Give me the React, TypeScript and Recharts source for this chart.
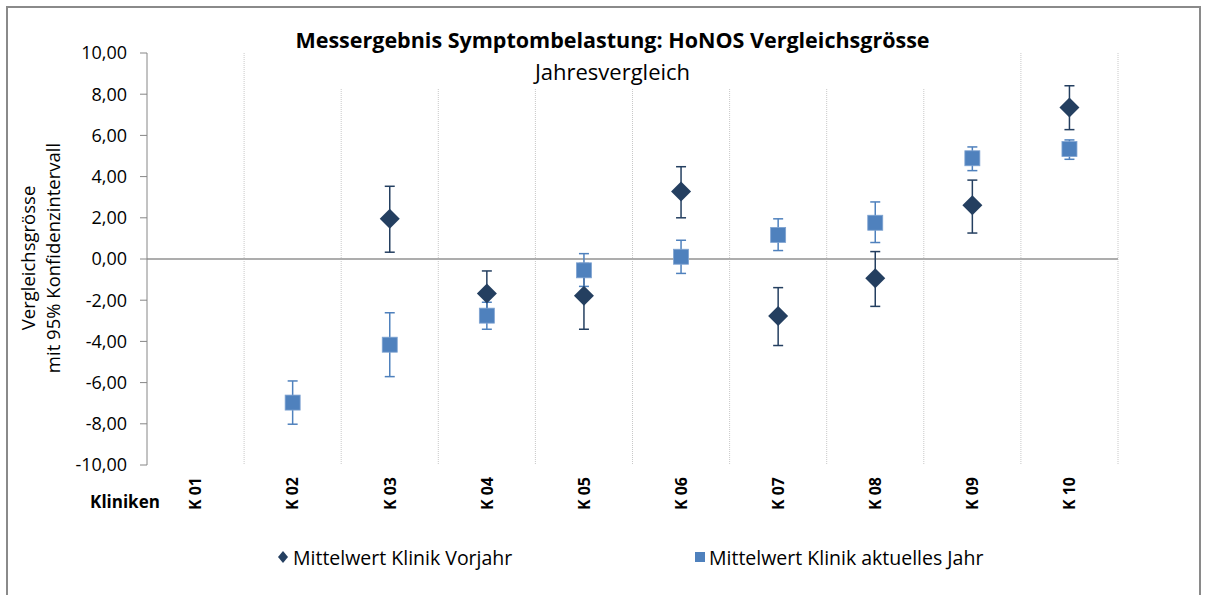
import {
  CartesianGrid,
  ComposedChart,
  ErrorBar,
  Line,
  ReferenceLine,
  XAxis,
  YAxis
} from 'recharts';

const categories = ['K 01', 'K 02', 'K 03', 'K 04', 'K 05', 'K 06', 'K 07', 'K 08', 'K 09', 'K 10'];

// Mittelwert Klinik Vorjahr with 95% interval
const vorjahr = [null, null, 1.95, -1.67, -1.78, 3.28, -2.77, -0.93, 2.61, 7.36];
const vorjahrLow = [null, null, 0.33, -2.76, -3.41, 2.0, -4.2, -2.3, 1.26, 6.28];
const vorjahrHigh = [null, null, 3.53, -0.58, -0.22, 4.48, -1.39, 0.36, 3.83, 8.41];

// Mittelwert Klinik aktuelles Jahr with 95% interval
const aktuell = [null, -6.97, -4.16, -2.75, -0.55, 0.11, 1.17, 1.76, 4.89, 5.34];
const aktuellLow = [null, -8.02, -5.71, -3.41, -1.33, -0.7, 0.41, 0.8, 4.29, 4.84];
const aktuellHigh = [null, -5.92, -2.61, -2.1, 0.26, 0.91, 1.95, 2.77, 5.44, 5.78];

const yTicks = [10, 8, 6, 4, 2, 0, -2, -4, -6, -8, -10];

const DARK = '#243F60';
const LIGHT = '#4F81BD';
const FONT = '"Open Sans", "Noto Sans", sans-serif';

const err = (v: number | null, lo: number | null, hi: number | null) =>
  v == null || lo == null || hi == null ? null : [v - lo, hi - v];

const data = categories.map((name, i) => ({
  name,
  vorjahr: vorjahr[i],
  aktuell: aktuell[i],
  vorjahrErr: err(vorjahr[i], vorjahrLow[i], vorjahrHigh[i]),
  aktuellErr: err(aktuell[i], aktuellLow[i], aktuellHigh[i])
}));

const fmt = (v: number) => v.toFixed(2).replace('.', ',');

function DiamondDot(props: any) {
  const { cx, cy, value } = props;
  if (value == null || cx == null || cy == null) return <g />;
  const r = 10;
  return (
    <polygon
      points={`${cx},${cy - r} ${cx + r},${cy} ${cx},${cy + r} ${cx - r},${cy}`}
      fill={DARK}
    />
  );
}

function SquareDot(props: any) {
  const { cx, cy, value } = props;
  if (value == null || cx == null || cy == null) return <g />;
  const r = 7.5;
  return <rect x={cx - r} y={cy - r} width={r * 2} height={r * 2} fill={LIGHT} stroke="#7FA3D1" strokeWidth={0.8} />;
}

function ClinicTick(props: any) {
  const { x, y, payload } = props;
  const ty = y + 4;
  return (
    <text
      x={x}
      y={ty}
      transform={`rotate(-90, ${x}, ${ty})`}
      textAnchor="end"
      dy="0.36em"
      fontFamily={FONT}
      fontWeight={700}
      fontSize={16}
      fill="#000"
    >
      {payload.value}
    </text>
  );
}

export default function App() {
  return (
    <div style={{ position: 'absolute', left: 0, top: 0, width: 1206, height: 595, overflow: 'hidden', background: '#fff' }}>
      <div
        style={{
          position: 'absolute',
          left: 6,
          top: 6,
          width: 1195,
          height: 620,
          border: '2px solid #8a8a8a',
          boxSizing: 'border-box'
        }}
      />
      <ComposedChart
        width={1206}
        height={595}
        data={data}
        margin={{ top: 53, right: 88, bottom: 70, left: 0 }}
      >
        <CartesianGrid
          horizontal={false}
          stroke="#c8c8c8"
          strokeDasharray="1 1"
          verticalCoordinatesGenerator={({ offset }: any) =>
            categories.map((_, i) => offset.left + ((i + 1) * offset.width) / categories.length)
          }
        />
        <XAxis
          dataKey="name"
          scale="band"
          axisLine={false}
          tickLine={false}
          interval={0}
          height={60}
          tick={<ClinicTick />}
          label={{
            content: () => (
              <text x={125} y={502} textAnchor="middle" dy="0.35em" fontFamily={FONT} fontWeight={700} fontSize={17} fill="#000">
                Kliniken
              </text>
            )
          }}
        />
        <YAxis
          width={147}
          domain={[-10, 10]}
          ticks={yTicks}
          interval={0}
          tickFormatter={fmt}
          axisLine={{ stroke: '#868686', strokeWidth: 1 }}
          tickLine={{ stroke: '#868686' }}
          tickSize={7}
          tickMargin={13}
          tick={{ fill: '#000', fontSize: 18, fontFamily: FONT }}
          label={{
            content: () => (
              <g fontFamily={FONT} fontSize={18.5} fill="#000" textAnchor="middle">
                <text x={29} y={258} transform="rotate(-90, 29, 258)" dy="0.35em">
                  Vergleichsgrösse
                </text>
                <text x={54} y={258} transform="rotate(-90, 54, 258)" dy="0.35em">
                  mit 95% Konfidenzintervall
                </text>
              </g>
            )
          }}
        />
        <ReferenceLine y={0} stroke="#adadad" strokeWidth={2} />
        <Line
          dataKey="vorjahr"
          stroke="none"
          dot={<DiamondDot />}
          activeDot={false}
          isAnimationActive={false}
        >
          <ErrorBar dataKey="vorjahrErr" direction="y" width={5} stroke={DARK} strokeWidth={1.5} />
        </Line>
        <Line
          dataKey="aktuell"
          stroke="none"
          dot={<SquareDot />}
          activeDot={false}
          isAnimationActive={false}
        >
          <ErrorBar dataKey="aktuellErr" direction="y" width={5} stroke={LIGHT} strokeWidth={1.5} />
        </Line>
      </ComposedChart>
      <div
        style={{
          position: 'absolute',
          left: 290,
          top: 20,
          width: 645,
          height: 69,
          background: '#fff',
          textAlign: 'center',
          fontFamily: FONT,
          color: '#000'
        }}
      >
        <div style={{ fontWeight: 700, fontSize: 21.5, lineHeight: '30px', marginTop: 5 }}>
          Messergebnis Symptombelastung: HoNOS Vergleichsgrösse
        </div>
        <div style={{ fontSize: 22, lineHeight: '30px', marginTop: 1 }}>Jahresvergleich</div>
      </div>
      <div
        style={{
          position: 'absolute',
          top: 545,
          left: 0,
          width: 1206,
          fontFamily: FONT,
          fontSize: 19.5,
          color: '#000'
        }}
      >
        <div style={{ position: 'absolute', left: 277, top: 0, display: 'flex', alignItems: 'center', height: 24 }}>
          <svg width={12} height={14} style={{ marginRight: 4 }}>
            <polygon points="6,1 11,7 6,13 1,7" fill={DARK} />
          </svg>
          <span>Mittelwert Klinik Vorjahr</span>
        </div>
        <div style={{ position: 'absolute', left: 694, top: 0, display: 'flex', alignItems: 'center', height: 24 }}>
          <svg width={12} height={14} style={{ marginRight: 3 }}>
            <rect x={1} y={2} width={10} height={10} fill={LIGHT} />
          </svg>
          <span>Mittelwert Klinik aktuelles Jahr</span>
        </div>
      </div>
    </div>
  );
}
